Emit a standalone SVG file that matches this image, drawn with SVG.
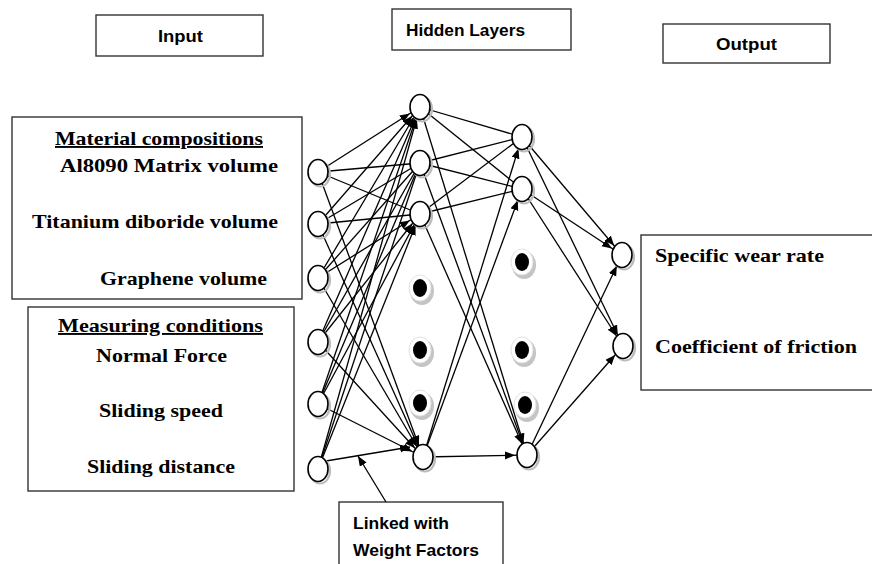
<svg xmlns="http://www.w3.org/2000/svg" width="872" height="564" viewBox="0 0 872 564">
  <style>
    .box { fill: #ffffff; stroke: #333333; stroke-width: 1.4; }
    .serif { font-family: "Liberation Serif", "Times New Roman", serif; font-weight: bold; font-size: 19px; fill: #000000; }
    .sans { font-family: "Liberation Sans", Arial, sans-serif; font-weight: bold; font-size: 17px; fill: #000000; }
    .ul { text-decoration: underline; }
    .edge { stroke: #000000; stroke-width: 1.3; fill: none; }
    .node { fill: #ffffff; stroke: #000000; stroke-width: 1.6; }
    .shadow { fill: none; stroke: #bcbcbc; stroke-width: 2.2; }
    .halo { fill: #ffffff; stroke: #e2e2e2; stroke-width: 1; }
    .halosh { fill: #c4c4c4; }
    .dot { fill: #000000; }
  </style>
  <defs>
    <!-- arrowhead whose tip stops 12px short of the line end (lines run centre to centre) -->
    <marker id="ah" markerUnits="userSpaceOnUse" markerWidth="24" markerHeight="10" refX="22" refY="4" orient="auto">
      <path d="M0,0 L10,4 L0,8 z" fill="#000000"/>
    </marker>
    <!-- arrowhead whose tip sits exactly on the line end -->
    <marker id="ah0" markerUnits="userSpaceOnUse" markerWidth="12" markerHeight="10" refX="10" refY="4" orient="auto">
      <path d="M0,0 L10,4 L0,8 z" fill="#000000"/>
    </marker>
  </defs>

  <rect width="872" height="564" fill="#ffffff"/>

  <!-- column headings -->
  <g id="label-input">
    <rect class="box" x="96" y="15" width="167" height="41"/>
    <text class="sans" x="158" y="42" textLength="45" lengthAdjust="spacingAndGlyphs">Input</text>
  </g>
  <g id="label-hidden">
    <rect class="box" x="392" y="9" width="179" height="41"/>
    <text class="sans" x="406" y="36" textLength="119" lengthAdjust="spacingAndGlyphs">Hidden Layers</text>
  </g>
  <g id="label-output">
    <rect class="box" x="663" y="24" width="167" height="39"/>
    <text class="sans" x="716" y="50" textLength="61" lengthAdjust="spacingAndGlyphs">Output</text>
  </g>

  <!-- input description boxes -->
  <g id="materials">
    <rect class="box" x="12" y="117" width="290" height="182"/>
    <text class="serif ul" x="55" y="145" textLength="208" lengthAdjust="spacingAndGlyphs">Material compositions</text>
    <text class="serif" x="60" y="172" textLength="218" lengthAdjust="spacingAndGlyphs">Al8090 Matrix volume</text>
    <text class="serif" x="32" y="228" textLength="246" lengthAdjust="spacingAndGlyphs">Titanium diboride volume</text>
    <text class="serif" x="100" y="285" textLength="167" lengthAdjust="spacingAndGlyphs">Graphene volume</text>
  </g>
  <g id="conditions">
    <rect class="box" x="28" y="307" width="266" height="184"/>
    <text class="serif ul" x="58" y="332" textLength="205" lengthAdjust="spacingAndGlyphs">Measuring conditions</text>
    <text class="serif" x="96" y="362" textLength="131" lengthAdjust="spacingAndGlyphs">Normal Force</text>
    <text class="serif" x="99" y="417" textLength="124" lengthAdjust="spacingAndGlyphs">Sliding speed</text>
    <text class="serif" x="87" y="473" textLength="148" lengthAdjust="spacingAndGlyphs">Sliding distance</text>
  </g>

  <!-- output description box -->
  <g id="outputs">
    <rect class="box" x="641" y="235" width="240" height="155"/>
    <text class="serif" x="655" y="262" textLength="169" lengthAdjust="spacingAndGlyphs">Specific wear rate</text>
    <text class="serif" x="655" y="353" textLength="202" lengthAdjust="spacingAndGlyphs">Coefficient of friction</text>
  </g>

  <!-- weight note -->
  <g id="note">
    <rect class="box" x="339" y="502" width="164" height="70"/>
    <text class="sans" x="353" y="529" textLength="96" lengthAdjust="spacingAndGlyphs">Linked with</text>
    <text class="sans" x="353" y="556" textLength="126" lengthAdjust="spacingAndGlyphs">Weight Factors</text>
  </g>

  <!-- connectors -->
  <g id="connectors">
    <!-- inputs to first hidden layer -->
    <line class="edge" x1="318" y1="172" x2="420" y2="107" marker-end="url(#ah)"/>
    <line class="edge" x1="318" y1="224" x2="420" y2="107" marker-end="url(#ah)"/>
    <line class="edge" x1="318" y1="278" x2="420" y2="107" marker-end="url(#ah)"/>
    <line class="edge" x1="318" y1="342" x2="420" y2="107" marker-end="url(#ah)"/>
    <line class="edge" x1="318" y1="404" x2="420" y2="107" marker-end="url(#ah)"/>
    <line class="edge" x1="318" y1="469" x2="420" y2="107" marker-end="url(#ah)"/>

    <line class="edge" x1="318" y1="172" x2="420" y2="163"/>
    <line class="edge" x1="318" y1="224" x2="420" y2="163"/>
    <line class="edge" x1="318" y1="278" x2="420" y2="163"/>
    <line class="edge" x1="318" y1="342" x2="420" y2="163"/>
    <line class="edge" x1="318" y1="404" x2="420" y2="163"/>
    <line class="edge" x1="318" y1="469" x2="420" y2="163"/>

    <line class="edge" x1="318" y1="172" x2="420" y2="214"/>
    <line class="edge" x1="318" y1="224" x2="420" y2="214"/>
    <line class="edge" x1="318" y1="278" x2="420" y2="214" marker-end="url(#ah)"/>
    <line class="edge" x1="318" y1="342" x2="420" y2="214" marker-end="url(#ah)"/>
    <line class="edge" x1="318" y1="404" x2="420" y2="214" marker-end="url(#ah)"/>
    <line class="edge" x1="318" y1="469" x2="420" y2="214" marker-end="url(#ah)"/>

    <line class="edge" x1="318" y1="172" x2="423" y2="457" marker-end="url(#ah)"/>
    <line class="edge" x1="318" y1="224" x2="423" y2="457" marker-end="url(#ah)"/>
    <line class="edge" x1="318" y1="278" x2="423" y2="457" marker-end="url(#ah)"/>
    <line class="edge" x1="318" y1="342" x2="423" y2="457" marker-end="url(#ah)"/>
    <line class="edge" x1="318" y1="404" x2="423" y2="457" marker-end="url(#ah)"/>
    <line class="edge" x1="326" y1="461" x2="410" y2="447" marker-end="url(#ah0)"/>

    <!-- first hidden layer to second hidden layer -->
    <line class="edge" x1="420" y1="107" x2="522" y2="137"/>
    <line class="edge" x1="420" y1="107" x2="522" y2="189"/>
    <line class="edge" x1="420" y1="107" x2="527" y2="455" marker-end="url(#ah)"/>
    <line class="edge" x1="420" y1="163" x2="522" y2="137"/>
    <line class="edge" x1="420" y1="163" x2="522" y2="189"/>
    <line class="edge" x1="420" y1="163" x2="527" y2="455" marker-end="url(#ah)"/>
    <line class="edge" x1="420" y1="214" x2="522" y2="137"/>
    <line class="edge" x1="420" y1="214" x2="522" y2="189"/>
    <line class="edge" x1="420" y1="214" x2="527" y2="455" marker-end="url(#ah)"/>
    <line class="edge" x1="423" y1="457" x2="522" y2="137" marker-end="url(#ah)"/>
    <line class="edge" x1="423" y1="457" x2="522" y2="189" marker-end="url(#ah)"/>
    <line class="edge" x1="423" y1="457" x2="527" y2="455" marker-end="url(#ah)"/>

    <!-- second hidden layer to outputs -->
    <line class="edge" x1="522" y1="137" x2="622" y2="255" marker-end="url(#ah)"/>
    <line class="edge" x1="522" y1="137" x2="623" y2="346" marker-end="url(#ah)"/>
    <line class="edge" x1="522" y1="189" x2="622" y2="255" marker-end="url(#ah)"/>
    <line class="edge" x1="522" y1="189" x2="623" y2="346" marker-end="url(#ah)"/>
    <line class="edge" x1="527" y1="455" x2="622" y2="255" marker-end="url(#ah)"/>
    <line class="edge" x1="527" y1="455" x2="623" y2="346" marker-end="url(#ah)"/>

    <!-- pointer from the note to a weighted link -->
    <line class="edge" x1="386" y1="502" x2="358" y2="456" marker-end="url(#ah0)"/>
  </g>

  <!-- input neurons -->
  <g id="in1"><ellipse class="shadow" cx="320" cy="174" rx="10" ry="12.5"/><ellipse class="node" cx="318" cy="172" rx="10" ry="12.5"/></g>
  <g id="in2"><ellipse class="shadow" cx="320" cy="226" rx="10" ry="12.5"/><ellipse class="node" cx="318" cy="224" rx="10" ry="12.5"/></g>
  <g id="in3"><ellipse class="shadow" cx="320" cy="280" rx="10" ry="12.5"/><ellipse class="node" cx="318" cy="278" rx="10" ry="12.5"/></g>
  <g id="in4"><ellipse class="shadow" cx="320" cy="344" rx="10" ry="12.5"/><ellipse class="node" cx="318" cy="342" rx="10" ry="12.5"/></g>
  <g id="in5"><ellipse class="shadow" cx="320" cy="406" rx="10" ry="12.5"/><ellipse class="node" cx="318" cy="404" rx="10" ry="12.5"/></g>
  <g id="in6"><ellipse class="shadow" cx="320" cy="471" rx="10" ry="12.5"/><ellipse class="node" cx="318" cy="469" rx="10" ry="12.5"/></g>

  <!-- first hidden layer -->
  <g id="h1a"><ellipse class="shadow" cx="422" cy="109" rx="10" ry="12.5"/><ellipse class="node" cx="420" cy="107" rx="10" ry="12.5"/></g>
  <g id="h1b"><ellipse class="shadow" cx="422" cy="165" rx="10" ry="12.5"/><ellipse class="node" cx="420" cy="163" rx="10" ry="12.5"/></g>
  <g id="h1c"><ellipse class="shadow" cx="422" cy="216" rx="10" ry="12.5"/><ellipse class="node" cx="420" cy="214" rx="10" ry="12.5"/></g>
  <g id="h1dots">
    <ellipse class="halosh" cx="422" cy="291" rx="12" ry="14"/><ellipse class="halo" cx="420" cy="288" rx="11" ry="13"/><ellipse class="dot" cx="420" cy="288" rx="7" ry="9"/>
    <ellipse class="halosh" cx="422" cy="353" rx="12" ry="14"/><ellipse class="halo" cx="420" cy="350" rx="11" ry="13"/><ellipse class="dot" cx="420" cy="350" rx="7" ry="9"/>
    <ellipse class="halosh" cx="422" cy="406" rx="12" ry="14"/><ellipse class="halo" cx="420" cy="403" rx="11" ry="13"/><ellipse class="dot" cx="420" cy="403" rx="7" ry="9"/>
  </g>
  <g id="h1d"><ellipse class="shadow" cx="425" cy="459" rx="10" ry="12.5"/><ellipse class="node" cx="423" cy="457" rx="10" ry="12.5"/></g>

  <!-- second hidden layer -->
  <g id="h2a"><ellipse class="shadow" cx="524" cy="139" rx="10" ry="12.5"/><ellipse class="node" cx="522" cy="137" rx="10" ry="12.5"/></g>
  <g id="h2b"><ellipse class="shadow" cx="524" cy="191" rx="10" ry="12.5"/><ellipse class="node" cx="522" cy="189" rx="10" ry="12.5"/></g>
  <g id="h2dots">
    <ellipse class="halosh" cx="524" cy="265" rx="12" ry="14"/><ellipse class="halo" cx="522" cy="262" rx="11" ry="13"/><ellipse class="dot" cx="522" cy="262" rx="7" ry="9"/>
    <ellipse class="halosh" cx="524" cy="353" rx="12" ry="14"/><ellipse class="halo" cx="522" cy="350" rx="11" ry="13"/><ellipse class="dot" cx="522" cy="350" rx="7" ry="9"/>
    <ellipse class="halosh" cx="527" cy="408" rx="12" ry="14"/><ellipse class="halo" cx="525" cy="405" rx="11" ry="13"/><ellipse class="dot" cx="525" cy="405" rx="7" ry="9"/>
  </g>
  <g id="h2d"><ellipse class="shadow" cx="529" cy="457" rx="10" ry="12.5"/><ellipse class="node" cx="527" cy="455" rx="10" ry="12.5"/></g>

  <!-- output neurons -->
  <g id="out1"><ellipse class="shadow" cx="624" cy="257" rx="10" ry="12.5"/><ellipse class="node" cx="622" cy="255" rx="10" ry="12.5"/></g>
  <g id="out2"><ellipse class="shadow" cx="625" cy="348" rx="10" ry="12.5"/><ellipse class="node" cx="623" cy="346" rx="10" ry="12.5"/></g>
</svg>
